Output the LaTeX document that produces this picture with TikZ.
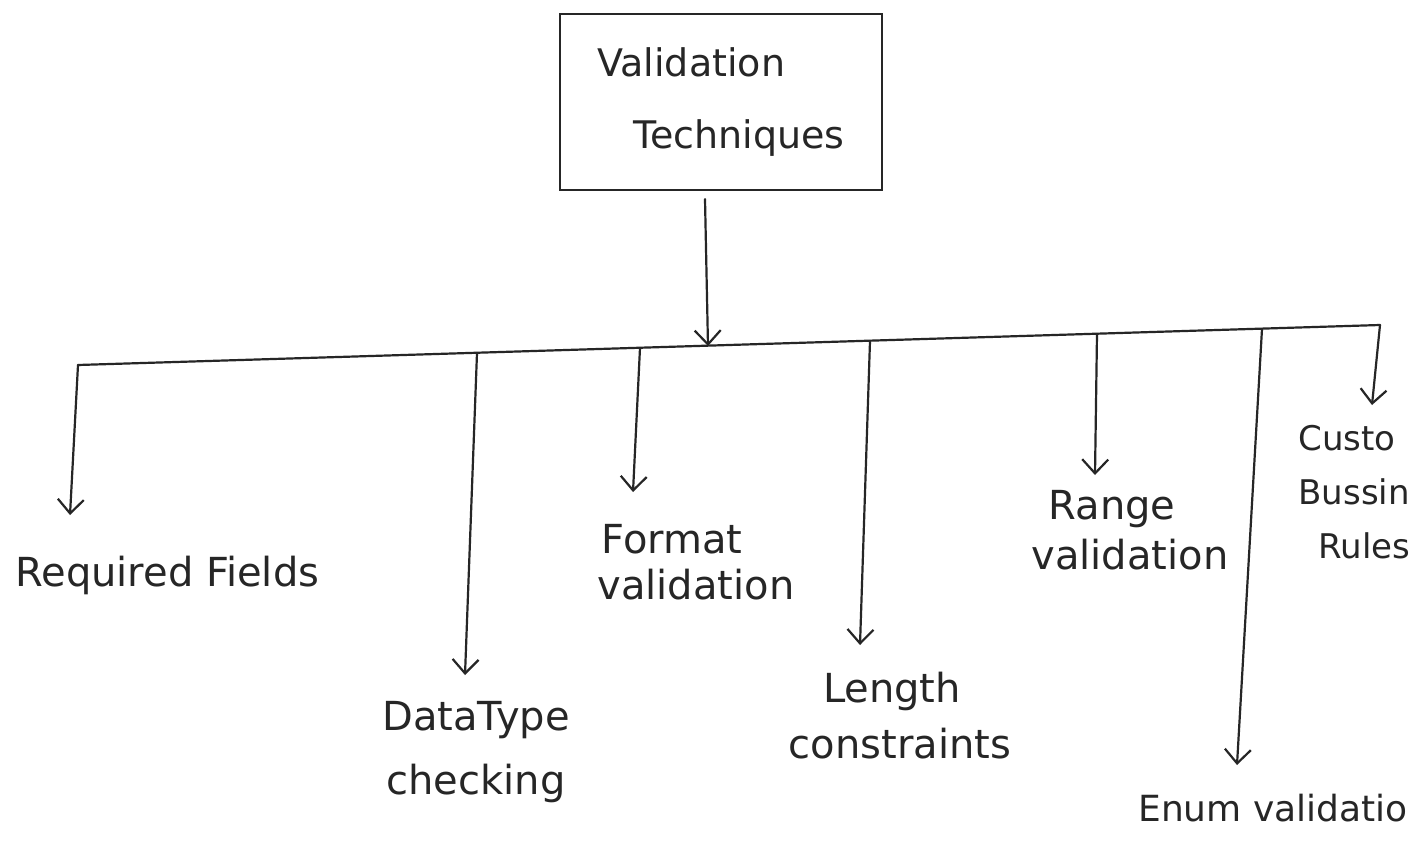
\documentclass[tikz,border=0pt]{standalone}
\usepackage{fontspec}
\setmainfont{DejaVu Sans}
\usetikzlibrary{arrows.meta}
\definecolor{ink}{HTML}{262626}
\begin{document}
\begin{tikzpicture}[x=0.5pt,y=-0.5pt,
  ink line/.style={draw=ink, line width=1.1pt, line cap=round},
  branch/.style={ink line, -{Straight Barb[length=7pt,width=13pt,line width=1.1pt]}},
  lbl/.style={text=ink, inner sep=0pt, align=center, font=\fontsize{20}{28}\selectfont},
  rootbox/.style={ink line, text=ink, minimum width=161pt, minimum height=88pt,
    inner sep=0pt, align=left, font=\fontsize{19}{36}\selectfont}]
  \clip (0,0) rectangle (1415,846);
  \fill[white] (0,0) rectangle (1415,846);

  % root box
  \node[rootbox] (root) at (721,102) {Validation\\\hspace*{18pt}Techniques};

  % distribution bus and its branch points
  \coordinate (hub) at (708,346);
  \coordinate (b1) at (78,365);
  \coordinate (b2) at (477,353);
  \coordinate (b3) at (640,348);
  \coordinate (b4) at (870,341);
  \coordinate (b5) at (1097,334);
  \coordinate (b6) at (1262,329);
  \coordinate (b7) at (1380,325);
  \draw[ink line] (b1) -- (b7);
  \draw[branch] ([xshift=-8pt,yshift=-4pt]root.south) -- (hub);

  % arrow tips above each label
  \coordinate (t1) at (70,515);
  \coordinate (t2) at (465,675);
  \coordinate (t3) at (633,492);
  \coordinate (t4) at (860,645);
  \coordinate (t5) at (1095,475);
  \coordinate (t6) at (1237,765);
  \coordinate (t7) at (1372,405);

  % labels
  \node[lbl, anchor=west] (req) at (15,575) {Required Fields};
  \node[lbl, font=\fontsize{20}{32}\selectfont] (dtype) at (476,752) {DataType\\checking};
  \node[lbl, font=\fontsize{20}{23}\selectfont] (fmt) at (672,562) {Format\\\hspace*{24pt}validation};
  \node[lbl, font=\fontsize{20}{28}\selectfont] (len) at (892,716) {Length\\\hspace*{8pt}constraints};
  \node[lbl, font=\fontsize{20}{25}\selectfont] (rng) at (1112,530) {Range\\\hspace*{18pt}validation};
  \node[lbl, anchor=west, font=\fontsize{18}{24}\selectfont] (enum) at (1138,808) {Enum validatio};
  \node[lbl, anchor=north west, align=left, font=\fontsize{17}{27}\selectfont] (cust) at (1298,425)
    {Custo\\Bussin\\\hspace*{10pt}Rules};

  % branches
  \foreach \i in {1,...,7} {
    \draw[branch] (b\i) -- (t\i);
  }
\end{tikzpicture}
\end{document}
